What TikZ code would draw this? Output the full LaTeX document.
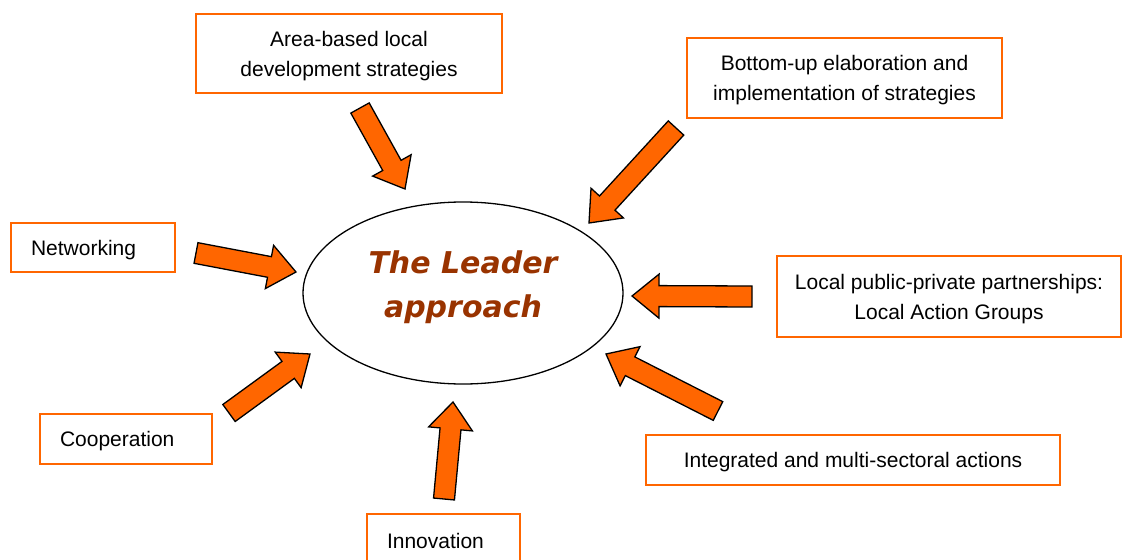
\documentclass[tikz,border=0pt]{standalone}
\usepackage{fontspec}
\setmainfont{Liberation Sans}
\newfontfamily\leaderfont{DejaVu Sans}
\usetikzlibrary{calc, shapes.geometric}
\definecolor{boxorange}{HTML}{FF6600}
\definecolor{leaderbrown}{HTML}{993300}

\begin{document}
\begin{tikzpicture}[x = 1pt, y = -1pt]
\tikzstyle{BoxStyle}=[draw = boxorange,
                      line width = 1.3pt,
                      inner sep = 0pt,
                      text depth = -2.5pt,
                      font = \fontsize{21}{30}\selectfont,
                      align = center]
\tikzstyle{LeftBoxStyle}=[BoxStyle, align = left, inner xsep = 20pt]
\tikzstyle{ArrowStyle}=[draw = black, line width = 1.3pt,
                        fill = boxorange, line join = miter]

\useasboundingbox (0,0) rectangle (1123,559);

% centre
\node[ellipse, draw, line width = 1.3pt, inner sep = 0pt,
      minimum width = 320pt, minimum height = 182pt,
      align = center, text = leaderbrown, text depth = 18pt,
      font = \leaderfont\bfseries\itshape\fontsize{30}{44}\selectfont]
      (leader) at (463,293) {The Leader\\approach};

% boxes
\node[BoxStyle, minimum width = 306pt, minimum height = 79pt] (area) at (349,53.5)
      {Area-based local\\development strategies};
\node[BoxStyle, minimum width = 315pt, minimum height = 80pt] (bottomup) at (844.5,78)
      {Bottom-up elaboration and\\implementation of strategies};
\node[LeftBoxStyle, text width = 124pt, minimum height = 49pt] (network) at (93,247.5)
      {Networking};
\node[BoxStyle, minimum width = 344pt, minimum height = 81pt] (lag) at (949,296.5)
      {Local public-private partnerships:\\Local Action Groups};
\node[LeftBoxStyle, text width = 132pt, minimum height = 50pt] (coop) at (126,439)
      {Cooperation};
\node[BoxStyle, minimum width = 414pt, minimum height = 50pt] (integrated) at (853,460)
      {Integrated and multi-sectoral actions};
\node[LeftBoxStyle, text width = 113pt, minimum height = 53pt] (innov) at (443.5,540.5)
      {Innovation};

% arrow ends
\coordinate (areaTail) at (360,108);       \coordinate (areaTip) at (405,189);
\coordinate (bottomupTail) at (676,128);   \coordinate (bottomupTip) at (589,223);
\coordinate (networkTail) at (196,253);    \coordinate (networkTip) at (296,272);
\coordinate (lagTail) at (752,296.5);      \coordinate (lagTip) at (632,296);
\coordinate (integratedTail) at (718,411); \coordinate (integratedTip) at (606,354);
\coordinate (innovTail) at (444,499);      \coordinate (innovTip) at (453,402);
\coordinate (coopTail) at (229,413);       \coordinate (coopTip) at (310,354);

\foreach \name in {area, bottomup, network, lag, integrated, innov, coop}{
  \coordinate (hb) at ($(\name Tip)!27pt!(\name Tail)$);
  \draw[ArrowStyle] ($(\name Tail)!10.5pt!90:(\name Tip)$)
    -- ($(hb)!10.5pt!90:(\name Tip)$) -- ($(hb)!22pt!90:(\name Tip)$)
    -- (\name Tip)
    -- ($(hb)!22pt!-90:(\name Tip)$) -- ($(hb)!10.5pt!-90:(\name Tip)$)
    -- ($(\name Tail)!10.5pt!-90:(\name Tip)$) -- cycle;
}
\end{tikzpicture}
\end{document}
